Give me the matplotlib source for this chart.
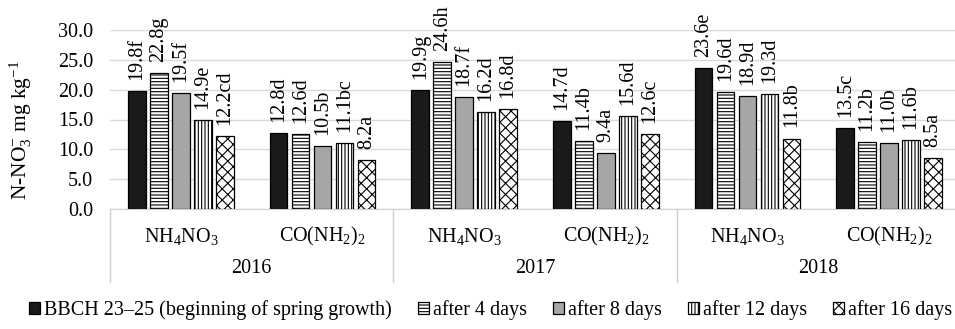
import matplotlib
matplotlib.use("Agg")
import matplotlib.pyplot as plt
import numpy as np

plt.rcParams['font.family'] = ['Liberation Serif', 'DejaVu Serif']
plt.rcParams['mathtext.fontset'] = 'custom'
plt.rcParams['mathtext.rm'] = 'Liberation Serif'
plt.rcParams['mathtext.it'] = 'Liberation Serif'
plt.rcParams['hatch.linewidth'] = 0.8

years = ["2016", "2017", "2018"]
fertilizers = ["NH$_4$NO$_3$", "CO(NH$_2$)$_2$"]
series_names = ["BBCH 23–25 (beginning of spring growth)", "after 4 days",
                "after 8 days", "after 12 days", "after 16 days"]

# values per series, ordered: 2016 NH4NO3, 2016 urea, 2017 NH4NO3, 2017 urea, 2018 NH4NO3, 2018 urea
bbch = [19.8, 12.8, 19.9, 14.7, 23.6, 13.5]
d4 = [22.8, 12.6, 24.6, 11.4, 19.6, 11.2]
d8 = [19.5, 10.5, 18.7, 9.4, 18.9, 11.0]
d12 = [14.9, 11.1, 16.2, 15.6, 19.3, 11.6]
d16 = [12.2, 8.2, 16.8, 12.6, 11.8, 8.5]

bbch_lab = ["19.8f", "12.8d", "19.9g", "14.7d", "23.6e", "13.5c"]
d4_lab = ["22.8g", "12.6d", "24.6h", "11.4b", "19.6d", "11.2b"]
d8_lab = ["19.5f", "10.5b", "18.7f", "9.4a", "18.9d", "11.0b"]
d12_lab = ["14.9e", "11.1bc", "16.2d", "15.6d", "19.3d", "11.6b"]
d16_lab = ["12.2cd", "8.2a", "16.8d", "12.6c", "11.8b", "8.5a"]

values = [bbch, d4, d8, d12, d16]
labels = [bbch_lab, d4_lab, d8_lab, d12_lab, d16_lab]
faces = ["#1a1a1a", "white", "#a6a6a6", "white", "white"]
hatches = [None, "-----", None, "|||||", "xxx"]

FS = 14.5
W, H = 955, 329
fig = plt.figure(figsize=(W / 100, H / 100), dpi=100)
left, right, top, bottom = 110, 960, 30, 209
ax = fig.add_axes([left / W, 1 - bottom / H, (right - left) / W, (bottom - top) / H])

x = np.arange(6)
step = 0.155
bw = 0.124
for i, (vals, labs) in enumerate(zip(values, labels)):
    pos = x + (i - 2) * step
    bars = ax.bar(pos, vals, width=bw, color=faces[i], edgecolor="black",
                  linewidth=0.9, hatch=hatches[i], label=series_names[i], zorder=3)
    for b, lab in zip(bars, labs):
        ax.annotate(lab, (b.get_x() + b.get_width() / 2, b.get_height()),
                    xytext=(0, 8), textcoords="offset points", rotation=90,
                    ha="center", va="bottom", fontsize=FS)

ax.set_xlim(-0.5, 5.5)
ax.set_ylim(0, 30)
ax.set_yticks(np.arange(0, 31, 5))
ax.set_yticklabels([f"{v:.1f}" for v in np.arange(0, 31, 5)], fontsize=FS)
ax.tick_params(axis="y", length=0, pad=12)
ax.tick_params(axis="x", length=0)
ax.set_xticks([])
ax.grid(axis="y", color="#d9d9d9", linewidth=1, zorder=0)
for s in ["left", "right", "top"]:
    ax.spines[s].set_visible(False)
ax.spines["bottom"].set_color("#d0d0d0")
ax.set_ylabel("N-NO$_3^{-}$ mg kg$^{-1}$", fontsize=15.5)
ax.yaxis.set_label_coords(-0.09, 0.44)

tr = ax.get_xaxis_transform()
for xb in [-0.5, 1.5, 3.5, 5.5]:
    ax.plot([xb, xb], [0, -0.41], transform=tr, color="#d0d0d0", lw=1, clip_on=False)
for k in range(6):
    ax.text(k, -0.155, fertilizers[k % 2], transform=tr, ha="center", va="center", fontsize=FS)
for j, yr in enumerate(years):
    ax.text(2 * j + 0.5, -0.33, yr, transform=tr, ha="center", va="center", fontsize=FS)

fig.legend(loc="center", bbox_to_anchor=(490.5 / W, 1 - 310 / H), ncol=5, frameon=False,
           fontsize=14.5, handlelength=0.55, handleheight=0.55, handletextpad=0.2,
           columnspacing=1.28, borderaxespad=0, borderpad=0)

fig.savefig("out.png", dpi=100)
